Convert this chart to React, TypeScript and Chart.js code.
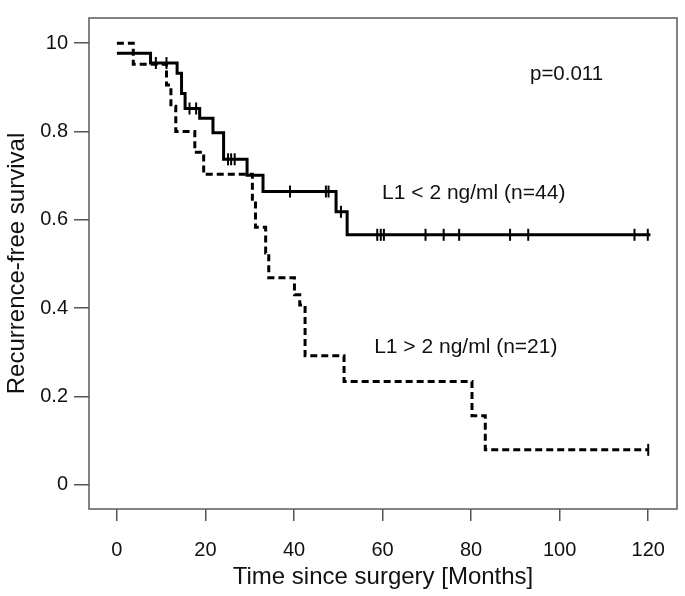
import React, { useEffect, useRef } from "react";
import { Chart, registerables } from "chart.js";

Chart.register(...registerables);

// Kaplan–Meier curve, L1 < 2 ng/ml (n=44): event times (months) and survival after each step
const SOLID_TIMES = [0, 7.6, 13.6, 14.6, 15.4, 18.7, 21.7, 24.1, 29.4, 33.0, 49.5, 52.0, 120.5];
const SOLID_SURV = [0.977, 0.955, 0.932, 0.886, 0.852, 0.83, 0.797, 0.737, 0.701, 0.664, 0.618, 0.566, 0.566];
const SOLID_CENSORED = [8.8, 11.2, 16.4, 17.9, 25.1, 25.8, 26.6, 39.1, 47.2, 47.8, 50.6, 58.8, 59.6, 60.3, 69.7, 73.8, 77.3, 88.8, 92.9, 116.9, 119.9];

// Kaplan–Meier curve, L1 > 2 ng/ml (n=21)
const DASH_TIMES = [0, 3.7, 11.2, 12.2, 13.3, 17.6, 19.6, 30.6, 31.3, 33.6, 34.3, 40.1, 41.3, 42.5, 51.3, 80.2, 83.2, 120];
const DASH_SURV = [1.0, 0.952, 0.905, 0.857, 0.8, 0.753, 0.703, 0.643, 0.583, 0.525, 0.469, 0.43, 0.407, 0.292, 0.234, 0.156, 0.079, 0.079];
const DASH_CENSORED = [120];

const X_TICKS = [0, 20, 40, 60, 80, 100, 120];
const Y_TICKS = [0, 0.2, 0.4, 0.6, 0.8, 1.0];
const Y_TICK_LABELS = ["0", "0.2", "0.4", "0.6", "0.8", "10"];

const X_TITLE = "Time since surgery [Months]";
const Y_TITLE = "Recurrence-free survival";
const P_TEXT = "p=0.011";
const LABEL_LOW = "L1 < 2 ng/ml (n=44)";
const LABEL_HIGH = "L1 > 2 ng/ml (n=21)";

const FONT = "'Liberation Sans', Arial, sans-serif";

function survAt(times: number[], surv: number[], t: number): number {
  let v = surv[0];
  for (let i = 0; i < times.length; i++) {
    if (times[i] <= t) v = surv[i];
  }
  return v;
}

const boxAndText = {
  id: "boxAndText",
  beforeDatasetsDraw(chart: any) {
    const { ctx, chartArea } = chart;
    ctx.save();
    ctx.strokeStyle = "#5a5a5a";
    ctx.lineWidth = 1.5;
    ctx.strokeRect(chartArea.left, chartArea.top, chartArea.right - chartArea.left, chartArea.bottom - chartArea.top);
    ctx.restore();
  },
  afterDraw(chart: any) {
    const { ctx } = chart;
    const xs = chart.scales.x;
    const ys = chart.scales.y;
    ctx.save();
    ctx.fillStyle = "#111";
    ctx.textBaseline = "middle";
    ctx.textAlign = "left";
    ctx.font = `20.5px ${FONT}`;
    ctx.fillText(P_TEXT, xs.getPixelForValue(93.3), ys.getPixelForValue(0.93));
    ctx.font = `21px ${FONT}`;
    ctx.fillText(LABEL_LOW, xs.getPixelForValue(59.9), ys.getPixelForValue(0.661));
    ctx.fillText(LABEL_HIGH, xs.getPixelForValue(58.1), ys.getPixelForValue(0.311));
    ctx.restore();
  },
};

export default function App() {
  const ref = useRef<HTMLCanvasElement | null>(null);

  useEffect(() => {
    if (!ref.current) return;
    const solid = SOLID_TIMES.map((t, i) => ({ x: t, y: SOLID_SURV[i] }));
    const dashed = DASH_TIMES.map((t, i) => ({ x: t, y: DASH_SURV[i] }));
    const censors = [
      ...SOLID_CENSORED.map((t) => ({ x: t, y: survAt(SOLID_TIMES, SOLID_SURV, t) })),
      ...DASH_CENSORED.map((t) => ({ x: t, y: survAt(DASH_TIMES, DASH_SURV, t) })),
    ];

    const chart = new Chart(ref.current, {
      type: "line",
      data: {
        datasets: [
          {
            label: LABEL_LOW,
            data: solid,
            stepped: "before",
            borderColor: "#000",
            borderWidth: 3,
            pointRadius: 0,
            fill: false,
          },
          {
            label: LABEL_HIGH,
            data: dashed,
            stepped: "before",
            borderColor: "#000",
            borderWidth: 3,
            borderDash: [7, 4],
            pointRadius: 0,
            fill: false,
          },
          {
            type: "scatter",
            label: "censored",
            data: censors,
            showLine: false,
            pointStyle: "line",
            rotation: 90,
            pointRadius: 6,
            borderWidth: 2,
            borderColor: "#000",
            backgroundColor: "#000",
          } as any,
        ],
      },
      options: {
        animation: false,
        responsive: false,
        devicePixelRatio: 1,
        layout: { padding: { top: 7, right: 6, left: 0, bottom: 0 } },
        plugins: {
          legend: { display: false },
          tooltip: { enabled: false },
        },
        scales: {
          x: {
            type: "linear",
            min: -6.3,
            max: 126.5,
            afterBuildTicks: (s: any) => {
              s.ticks = X_TICKS.map((v) => ({ value: v }));
            },
            afterFit: (s: any) => {
              s.height = 87;
            },
            border: { display: false },
            grid: { drawOnChartArea: false, drawTicks: true, tickLength: 12, color: "#555", lineWidth: 1.5 },
            ticks: {
              color: "#111",
              font: { family: FONT, size: 20 },
              padding: 17,
              maxRotation: 0,
              autoSkip: false,
            },
            title: {
              display: true,
              text: X_TITLE,
              color: "#111",
              font: { family: FONT, size: 24 },
              padding: { top: 0, bottom: 4 },
            },
          },
          y: {
            type: "linear",
            min: -0.055,
            max: 1.057,
            afterBuildTicks: (s: any) => {
              s.ticks = Y_TICKS.map((v) => ({ value: v }));
            },
            afterFit: (s: any) => {
              s.width = 89;
            },
            border: { display: false },
            grid: { drawOnChartArea: false, drawTicks: true, tickLength: 15, color: "#555", lineWidth: 1.5 },
            ticks: {
              color: "#111",
              font: { family: FONT, size: 20 },
              padding: 6,
              autoSkip: false,
              callback: (v: any) => {
                const i = Y_TICKS.findIndex((t) => Math.abs(t - Number(v)) < 1e-6);
                return i >= 0 ? Y_TICK_LABELS[i] : "";
              },
            },
            title: {
              display: true,
              text: Y_TITLE,
              color: "#111",
              font: { family: FONT, size: 24 },
              padding: { top: 3, bottom: 0 },
            },
          },
        },
      },
      plugins: [boxAndText],
    });
    return () => chart.destroy();
  }, []);

  return (
    <div style={{ position: "fixed", left: 0, top: 0, width: 685, height: 596, background: "#fff" }}>
      <canvas ref={ref} width={685} height={596} style={{ display: "block", width: 685, height: 596 }} />
    </div>
  );
}
